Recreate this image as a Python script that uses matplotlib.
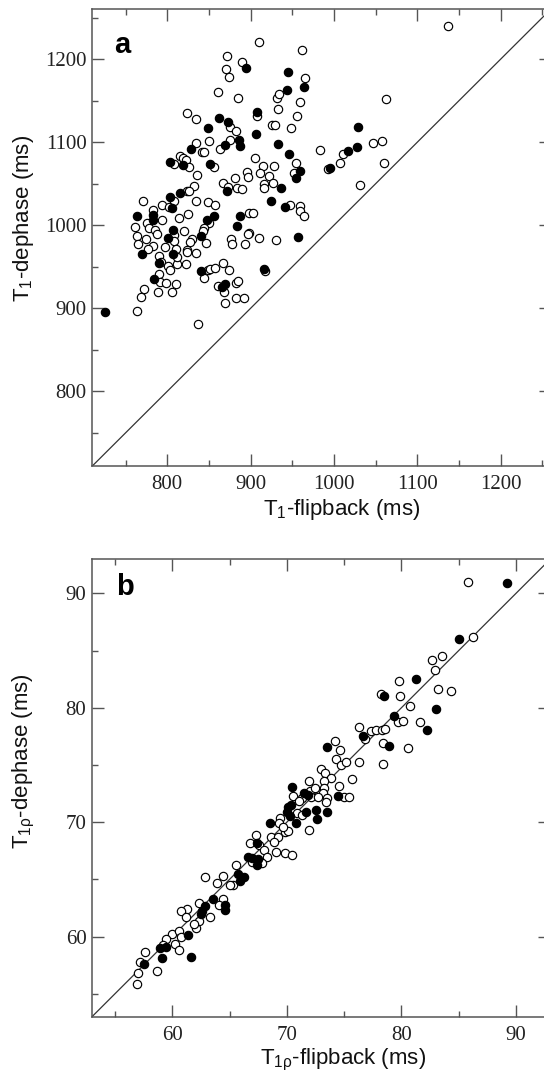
import matplotlib
matplotlib.use("Agg")
import matplotlib.pyplot as plt
from matplotlib.ticker import MultipleLocator

plt.rcParams['mathtext.fontset'] = 'custom'
plt.rcParams['mathtext.rm'] = 'Liberation Sans'
plt.rcParams['mathtext.it'] = 'Liberation Sans'
plt.rcParams['mathtext.bf'] = 'Liberation Sans:bold'

# ---------------- Panel a data (T1, ms) ----------------
a_open_x = [1137, 910.6, 871.1, 961.4, 870.7, 874.4, 890.2, 964.7, 860.3, 884.8, 931.4, 933.9, 958.9, 1062.5,
            932.7, 824.0, 908.1, 956.0, 834.5, 874.8, 882.3, 925.2, 928.9, 948.9, 850.3, 874.8, 834.5, 841.1,
            843.6, 863.2, 983.0, 1010.9, 1007.2, 1046.7, 1057.5, 1060.5, 904.8, 915.2, 928.5, 954.3, 808.6,
            815.7, 819.1, 822.0, 856.1, 825.7, 992.6, 1030.9, 952.2, 895.6, 911.5, 922.3, 896.5, 881.5, 835.3,
            915.6, 916.4, 926.8, 866.5, 872.7, 883.6, 889.4, 832.0, 824.0, 826.5, 807.8, 793.2, 802.0, 770.4,
            834.9, 849.0, 857.3, 946.8, 959.7, 958.9, 963.5, 898.1, 903.1, 824.9, 814.1, 782.4, 850.3, 844.0,
            842.4, 793.2, 776.2, 778.3, 761.6, 820.3, 785.8, 787.4, 807.8, 829.9, 827.0, 763.3, 774.1, 897.7,
            896.5, 910.6, 876.5, 877.7, 931.0, 764.5, 783.2, 776.6, 808.6, 846.1, 893.6, 797.4, 810.3, 823.2,
            789.9, 792.0, 800.3, 803.2, 812.0, 811.6, 822.0, 824.0, 834.9, 843.6, 849.0, 851.5, 857.8, 866.5,
            874.4, 917.3, 789.5, 791.6, 798.2, 810.3, 772.4, 767.9, 788.3, 805.3, 860.7, 867.8, 882.7, 884.4,
            869.4, 882.7, 891.5, 763.7, 837.4]
a_open_y = [1240.3, 1220.6, 1203.8, 1210.6, 1187.7, 1178.9, 1196.1, 1177.7, 1160.0, 1153.6, 1153.2, 1157.6,
            1148.0, 1151.6, 1140.3, 1135.5, 1131.5, 1131.5, 1127.9, 1118.7, 1113.9, 1120.7, 1120.7, 1116.7,
            1101.8, 1102.6, 1098.6, 1087.8, 1087.8, 1091.8, 1090.6, 1086.2, 1074.5, 1098.6, 1101.4, 1075.3,
            1080.9, 1071.7, 1070.9, 1075.3, 1074.1, 1083.3, 1081.3, 1078.5, 1069.7, 1070.1, 1067.3, 1048.8,
            1062.5, 1064.5, 1063.3, 1059.7, 1058.5, 1056.4, 1060.5, 1049.2, 1044.4, 1051.2, 1051.2, 1045.6,
            1044.4, 1043.6, 1047.6, 1040.8, 1041.2, 1028.8, 1024.7, 1022.3, 1029.6, 1028.8, 1028.4, 1024.7,
            1024.7, 1023.5, 1017.5, 1011.1, 1014.3, 1014.3, 1013.9, 1008.3, 1018.7, 1003.1, 997.0, 993.4,
            1005.9, 1002.3, 997.0, 998.2, 993.0, 994.2, 989.0, 987.8, 983.0, 979.8, 986.6, 983.0, 991.0,
            989.0, 985.0, 983.0, 977.0, 982.6, 976.9, 975.4, 971.4, 981.0, 979.0, 977.4, 974.2, 971.0, 970.6,
            962.9, 956.0, 950.8, 946.0, 953.2, 962.1, 953.2, 968.1, 966.1, 936.8, 946.0, 946.8, 948.0, 954.0,
            945.6, 944.4, 941.2, 931.6, 930.0, 929.2, 922.7, 913.9, 919.5, 919.9, 926.8, 919.5, 930.0, 933.2,
            906.7, 911.9, 912.7, 897.0, 881.4]
a_fill_x = [894.0, 944.3, 964.3, 943.5, 907.7, 862.3, 873.2, 848.6, 906.0, 1028.8, 886.1, 887.3, 869.8, 932.7,
            828.2, 1027.6, 1016.8, 946.4, 803.7, 819.1, 851.1, 994.7, 959.7, 954.3, 871.1, 936.8, 815.3, 803.3,
            805.3, 923.9, 941.4, 855.7, 887.3, 782.8, 763.7, 847.8, 782.4, 807.0, 884.0, 801.2, 839.9, 957.2,
            769.1, 790.3, 806.6, 840.7, 915.6, 783.7, 865.7, 869.0, 725.0]
a_fill_y = [1188.9, 1184.9, 1166.4, 1162.8, 1135.9, 1128.7, 1123.9, 1117.5, 1109.8, 1118.7, 1102.2, 1095.4,
            1096.6, 1097.8, 1091.8, 1094.6, 1089.4, 1085.8, 1075.7, 1072.9, 1073.7, 1069.3, 1065.3, 1056.4,
            1041.6, 1044.4, 1039.2, 1033.6, 1021.1, 1029.2, 1021.5, 1011.1, 1011.5, 1012.3, 1011.5, 1006.3,
            1006.3, 994.2, 999.0, 985.0, 987.4, 985.4, 965.3, 954.8, 964.9, 944.8, 947.6, 934.8, 925.1, 928.8,
            895.0]

# ---------------- Panel b data (T1rho, ms) ----------------
b_open_x = [85.8, 86.23, 82.66, 83.56, 82.93, 79.81, 83.17, 84.35, 78.18, 79.87, 80.72, 79.69, 80.17, 81.63,
            76.30, 77.33, 77.75, 78.30, 78.57, 76.81, 78.36, 80.54, 78.39, 76.33, 74.18, 74.67, 74.33, 74.73,
            75.18, 75.72, 72.94, 73.33, 73.88, 73.21, 71.94, 74.57, 73.21, 70.58, 72.0, 72.45, 73.12, 73.48,
            75.03, 75.39, 71.3, 72.1, 72.76, 71.06, 73.42,
            69.37, 70.91, 71.3, 71.91, 69.85, 70.09, 69.34, 69.64, 68.64, 69.19, 68.88, 69.04, 67.28, 66.76,
            67.58, 67.98, 68.28, 69.88, 70.49, 66.92, 67.8, 65.55, 65.31, 65.04, 64.4, 63.95, 62.86, 64.46,
            64.04, 62.38, 63.34, 62.38, 62.07, 61.92, 61.32, 60.77, 61.22, 59.95, 59.44, 60.59, 60.77, 60.26,
            60.56, 57.62, 57.23, 56.99, 56.93, 58.71, 59.2]
b_open_y = [91.02, 86.18, 84.14, 84.55, 83.32, 82.33, 81.64, 81.49, 81.20, 81.05, 80.12, 78.72, 78.81, 78.78,
            78.28, 77.96, 78.05, 78.08, 78.14, 77.29, 76.94, 76.48, 75.05, 75.25, 77.06, 76.30, 75.54, 74.96,
            75.22, 73.74, 74.61, 74.26, 73.83, 73.59, 73.62, 73.15, 72.95, 72.28, 72.75, 73.01, 72.51, 72.13,
            72.16, 72.22, 72.08, 72.16, 72.22, 71.87, 71.79,
            70.33, 70.76, 70.62, 69.31, 69.16, 69.25, 69.89, 69.6, 68.72, 68.72, 68.29, 67.41, 68.87, 68.14,
            67.99, 67.56, 66.97, 67.33, 67.12, 66.54, 66.45, 66.22, 64.47, 64.5, 65.29, 64.67, 65.23, 63.3,
            62.75, 62.9, 61.67, 61.38, 60.71, 61.09, 62.4, 62.23, 61.7, 60.27, 59.78, 60.48, 59.98, 59.34,
            58.82, 58.67, 57.8, 56.84, 55.9, 57.01, 59.3]
b_fill_x = [89.2, 85.02, 81.26, 83.02, 78.48, 79.36, 82.20, 76.63, 78.93, 73.48, 70.46, 71.49, 74.48, 71.85,
            70.09, 70.03, 70.4, 70.24, 70.79, 71.7, 72.52, 72.67, 73.48, 68.52, 67.43, 66.61, 67.0, 67.52,
            67.43, 65.7, 66.25, 65.92, 63.59, 64.59, 64.59, 62.83, 62.59, 62.53, 61.35, 61.65, 58.95, 59.5,
            59.1, 57.53]
b_fill_y = [90.93, 86.0, 82.54, 79.89, 81.05, 79.24, 78.05, 77.55, 76.65, 76.56, 73.10, 72.57, 72.28, 72.37,
            71.35, 70.91, 71.49, 70.53, 69.89, 70.91, 71.06, 70.24, 70.91, 69.95, 68.14, 66.97, 66.83, 66.74,
            66.25, 65.46, 65.17, 64.85, 63.28, 62.75, 62.31, 62.66, 62.26, 61.97, 60.16, 58.18, 59.02, 59.11,
            58.09, 57.59]

a_lim = (710, 1260)
b_lim = (53, 93)
a_ticks = [800, 900, 1000, 1100, 1200]
b_ticks = [60, 70, 80, 90]

W, H = 544, 1077
fig = plt.figure(figsize=(W / 100, H / 100), dpi=100)
axw = 458.4 / W
ax_a = fig.add_axes([92.3 / W, (H - 466) / H, axw, 456.7 / H])
ax_b = fig.add_axes([92.0 / W, (H - 1016.7) / H, axw, 457.7 / H])

spine_c = '#555555'
serif = 'Liberation Serif'
sans = 'Liberation Sans'


def style(ax, lim, ticks, minor):
    ax.set_xlim(*lim)
    ax.set_ylim(*lim)
    ax.set_xticks(ticks)
    ax.set_yticks(ticks)
    ax.xaxis.set_minor_locator(MultipleLocator(minor))
    ax.yaxis.set_minor_locator(MultipleLocator(minor))
    for s in ax.spines.values():
        s.set_color(spine_c)
        s.set_linewidth(1.1)
    ax.tick_params(which='both', direction='in', top=True, right=True, color=spine_c, width=1.0)
    ax.tick_params(which='major', length=8.5)
    ax.tick_params(which='minor', length=4.3)
    ax.tick_params(axis='x', which='major', pad=6.5)
    ax.tick_params(axis='y', which='major', pad=4)
    for lab in ax.get_xticklabels() + ax.get_yticklabels():
        lab.set_fontfamily(serif)
        lab.set_fontsize(15)
        lab.set_color('#222222')
    ax.plot(lim, lim, color='#333333', lw=0.9, zorder=1)


def pts(ax, ox, oy, fx, fy):
    ax.scatter(ox, oy, s=36, facecolors='white', edgecolors='black', linewidths=0.85, zorder=3)
    ax.scatter(fx, fy, s=36, facecolors='black', edgecolors='black', linewidths=0.85, zorder=4)


style(ax_a, a_lim, a_ticks, 50)
style(ax_b, b_lim, b_ticks, 5)
pts(ax_a, a_open_x, a_open_y, a_fill_x, a_fill_y)
pts(ax_b, b_open_x, b_open_y, b_fill_x, b_fill_y)

ax_a.text(0.048, 0.904, 'a', transform=ax_a.transAxes, fontsize=21, fontweight='bold',
          family=sans, ha='left', va='baseline')
ax_b.text(0.052, 0.921, 'b', transform=ax_b.transAxes, fontsize=21, fontweight='bold',
          family=sans, ha='left', va='baseline')

lab_kw = dict(fontsize=16, family=sans, color='#111111', ha='center', va='center')
fig.text(342 / W, 1 - 510 / H, r'T$_{\mathrm{1}}$-flipback (ms)', **lab_kw)
fig.text(24 / W, 1 - 218 / H, r'T$_{\mathrm{1}}$-dephase (ms)', rotation=90, **lab_kw)
fig.text(342.6 / W, 1 - 1060 / H, r'T$_{\mathrm{1}\rho}$-flipback (ms)', **lab_kw)
fig.text(24 / W, 1 - 761 / H, r'T$_{\mathrm{1}\rho}$-dephase (ms)', rotation=90, **lab_kw)

fig.savefig('out.png', dpi=100, facecolor='white')
